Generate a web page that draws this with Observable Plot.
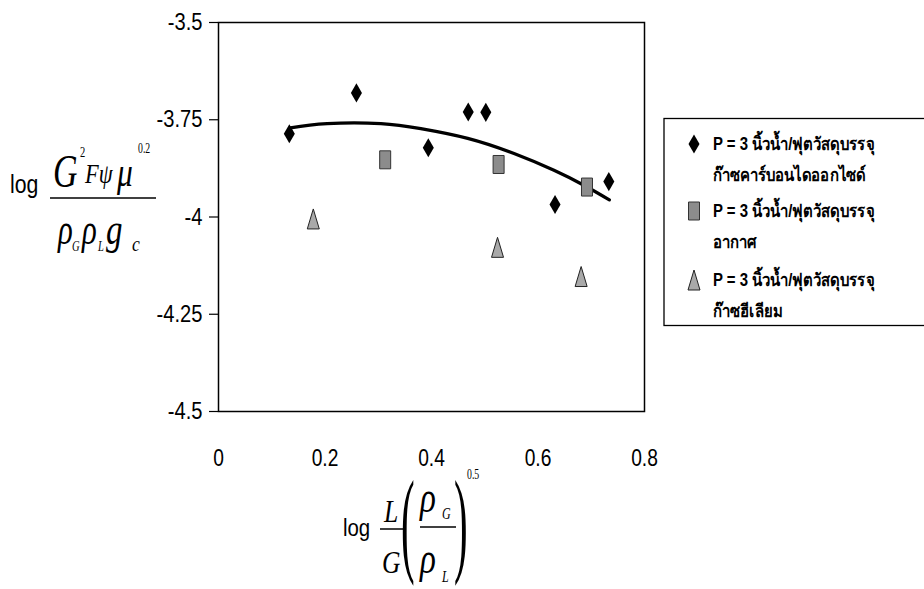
<!DOCTYPE html>
<html>
<head>
<meta charset="utf-8">
<script src="https://cdn.jsdelivr.net/npm/d3@7"></script>
<script src="https://cdn.jsdelivr.net/npm/@observablehq/plot@0.6"></script>
<style>
  html, body { margin: 0; padding: 0; background: #fff; }
  #chart { width: 924px; height: 589px; position: relative; }
</style>
</head>
<body>
<div id="chart"></div>
<script>
// ---- data ----
const co2X = [0.133, 0.259, 0.394, 0.469, 0.502, 0.632, 0.733];
const co2Y = [-3.786, -3.681, -3.822, -3.730, -3.731, -3.968, -3.909];
const airX = [0.313, 0.526, 0.692];
const airY = [-3.853, -3.865, -3.923];
const heX = [0.178, 0.524, 0.681];
const heY = [-4.005, -4.078, -4.153];
const trendX = [0.135, 0.204, 0.305, 0.380, 0.468, 0.555, 0.630, 0.687, 0.734];
const trendY = [-3.771, -3.760, -3.760, -3.773, -3.798, -3.837, -3.880, -3.919, -3.956];
const xTicks = [0, 0.2, 0.4, 0.6, 0.8];
const yTicks = [-3.5, -3.75, -4, -4.25, -4.5];
const legendLine1 = "P = 3 นิ้วน้ำ/ฟุตวัสดุบรรจุ";
const legendLine2 = ["ก๊าซคาร์บอนไดออกไซด์", "อากาศ", "ก๊าซฮีเลียม"];

const toRows = (xs, ys) => xs.map((x, i) => ({x, y: ys[i]}));
const co2 = toRows(co2X, co2Y);
const air = toRows(airX, airY);
const he = toRows(heX, heY);
const trend = toRows(trendX, trendY);

const tallSquare = {draw(ctx) { const w = 11, h = 18; ctx.rect(-w / 2, -h / 2, w, h); }};
const tallTriangle = {draw(ctx) { const w = 12, h = 20; ctx.moveTo(0, -h / 2); ctx.lineTo(w / 2, h / 2); ctx.lineTo(-w / 2, h / 2); ctx.closePath(); }};

const fmt = d => String(d);

const plot = Plot.plot({
  width: 924,
  height: 589,
  marginLeft: 218,
  marginRight: 280,
  marginTop: 22,
  marginBottom: 178,
  x: {domain: [0, 0.8]},
  y: {domain: [-4.5, -3.5]},
  style: {fontFamily: "'Liberation Sans', Arial, sans-serif", fontSize: "24px", background: "white", color: "black", overflow: "visible"},
  marks: [
    Plot.axisY({ticks: yTicks, tickSize: 9, tickPadding: 7, tickFormat: fmt, label: null, fontSize: 24, strokeWidth: 1.2}),
    Plot.axisX({ticks: xTicks, tickSize: 0, tickPadding: 37, tickFormat: fmt, label: null, fontSize: 24}),
    Plot.frame({stroke: "black", strokeWidth: 1.5}),
    Plot.line(trend, {x: "x", y: "y", curve: "natural", stroke: "black", strokeWidth: 3.2}),
    Plot.dot(he, {x: "x", y: "y", symbol: tallTriangle, fill: "#a9a9a9", stroke: "#222", strokeWidth: 1}),
    Plot.dot(air, {x: "x", y: "y", symbol: tallSquare, fill: "#8c8c8c", stroke: "#333", strokeWidth: 1}),
    Plot.dot(co2, {x: "x", y: "y", symbol: "diamond", r: 5.8, fill: "black", stroke: "none"})
  ]
});

document.getElementById("chart").appendChild(plot);
const svg = d3.select(plot);

// condense tick labels horizontally like the reference's narrow face
function condense(sel, s) {
  sel.each(function() {
    const t = d3.select(this);
    const tr = t.attr("transform");
    if (tr) t.attr("transform", `${tr} scale(${s},1)`);
  });
}
condense(svg.selectAll('g[aria-label="y-axis tick label"] text'), 0.84);
condense(svg.selectAll('g[aria-label="x-axis tick label"] text'), 0.8);

// ---- axis titles (math) ----
const serif = "'Liberation Serif', 'Times New Roman', serif";
const sans = "'Liberation Sans', Arial, sans-serif";
const g = svg.append("g").attr("fill", "black").attr("text-anchor", "start");
function put(txt, x, y, size, opts = {}) {
  const sx = opts.sx ?? 0.78;
  g.append("text")
    .attr("text-anchor", "start")
    .attr("transform", `translate(${x},${y}) scale(${sx},1)`)
    .attr("font-family", opts.sans ? sans : serif)
    .attr("font-style", opts.italic === false || opts.sans ? "normal" : "italic")
    .attr("font-size", size)
    .text(txt);
}
function bar(x1, x2, y) {
  g.append("line").attr("x1", x1).attr("x2", x2).attr("y1", y).attr("y2", y)
    .attr("stroke", "black").attr("stroke-width", 1.5);
}
// y title
put("log", 10, 193, 25, {sans: true, sx: 0.85});
put("G", 53, 187, 46, {sx: 0.74});
put("2", 80, 157, 14, {italic: false, sx: 0.75});
put("F\u03C8", 85, 183, 28, {sx: 0.8});
put("\u03BC", 117, 186, 42, {sx: 0.75});
put("0.2", 138, 153, 14, {italic: false, sx: 0.7});
bar(50, 156, 198);
put("\u03C1", 58, 244, 44, {sx: 0.7});
put("G", 72, 251, 14, {sx: 0.75});
put("\u03C1", 82, 244, 44, {sx: 0.7});
put("L", 98, 251, 14, {sx: 0.75});
put("g", 106, 244, 44, {sx: 0.75});
put("c", 132, 251, 22, {sx: 0.8});
// x title
put("log", 343, 536, 24, {sans: true, sx: 0.85});
put("L", 384, 522, 32, {sx: 0.8});
bar(380, 403, 529);
put("G", 382, 573, 32, {sx: 0.8});
put("(", 401, 561, 117, {italic: false, sx: 0.35});
put("\u03C1", 420, 512, 44, {sx: 0.75});
put("G", 442, 519, 16, {sx: 0.75});
bar(420, 456, 527);
put("\u03C1", 420, 573, 44, {sx: 0.75});
put("L", 442, 582, 16, {sx: 0.75});
put(")", 454, 561, 117, {italic: false, sx: 0.35});
put("0.5", 467, 479, 14, {italic: false, sx: 0.7});

// ---- legend ----
const lg = svg.append("g").attr("text-anchor", "start");
lg.append("rect").attr("x", 664).attr("y", 118.5).attr("width", 280).attr("height", 207)
  .attr("fill", "white").attr("stroke", "black").attr("stroke-width", 1.3);
const symDiamond = d3.symbol(d3.symbolDiamond, 5.8 * 5.8 * Math.PI)();
const symSquare = d3.symbol(tallSquare)();
const symTri = d3.symbol(tallTriangle)();
const legendSyms = [
  {d: symDiamond, fill: "black", stroke: "none"},
  {d: symSquare, fill: "#8c8c8c", stroke: "#333"},
  {d: symTri, fill: "#a9a9a9", stroke: "#222"}
];
const rowY = [144, 211, 280];
legendSyms.forEach((s, i) => {
  lg.append("path").attr("d", s.d).attr("transform", `translate(694,${rowY[i]})`)
    .attr("fill", s.fill).attr("stroke", s.stroke);
  lg.append("text").attr("text-anchor", "start").attr("font-family", sans).attr("font-weight", "bold").attr("font-size", 18)
    .attr("transform", `translate(713,${rowY[i] + 6}) scale(0.83,1)`).text(legendLine1);
  lg.append("text").attr("text-anchor", "start").attr("font-family", sans).attr("font-weight", "bold").attr("font-size", 18)
    .attr("transform", `translate(713,${rowY[i] + 37}) scale(0.83,1)`).text(legendLine2[i]);
});
</script>
</body>
</html>
